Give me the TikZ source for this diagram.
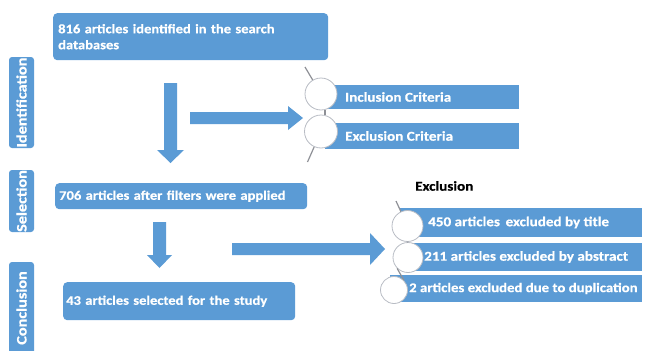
\documentclass[tikz,border=0pt]{standalone}
\usepackage{fontspec}
\setmainfont{Carlito}[FakeStretch=1.12, FakeBold=0.6]
\definecolor{blu}{HTML}{5B9BD5}
\definecolor{ring}{HTML}{B8BCC4}
\definecolor{stem}{HTML}{8E9096}
\begin{document}
\begin{tikzpicture}[x=1pt,y=-1pt,
 box/.style={fill=blu, rounded corners=4pt, text=white, font=\bfseries\fontsize{13}{16}\selectfont, inner ysep=0pt, align=left},
 lbl/.style={fill=blu, rounded corners=3pt, text=white, font=\bfseries\fontsize{14.5}{16}\selectfont, rotate=90, inner sep=0pt, minimum height=25pt},
 bar/.style={fill=blu, inner sep=0pt, anchor=west},
 txt/.style={text=white, font=\bfseries\fontsize{13.5}{15}\selectfont, inner sep=0pt, anchor=west},
 circ/.style={circle, fill=white, draw=ring, line width=0.8pt, inner sep=0pt},
 conn/.style={draw=stem, line width=1.2pt},
 blockarrow/.style={fill=blu}]
\useasboundingbox (0,0) rectangle (646,351);

% stage labels
\node[lbl, minimum width=91pt] (idl) at (21.5,102.5) {Identification};
\node[lbl, minimum width=62pt] (sell) at (21.5,201) {Selection};
\node[lbl, minimum width=92pt] (conl) at (21.5,308) {Conclusion};

% main boxes
\node[box, anchor=north west, minimum width=275pt, minimum height=47pt, text width=265pt, inner xsep=5pt] (top) at (53,13) {816 articles identified in the search\\databases};
\node[box, anchor=north west, minimum width=252pt, minimum height=26pt, text width=244pt, inner xsep=4pt] (sel) at (55,183) {706 articles after filters were applied};
\node[box, anchor=north west, minimum width=232pt, minimum height=38pt, text width=226pt, inner xsep=3pt] (con) at (63,282) {43 articles selected for the study};

% block arrows
\fill[blockarrow] (164,83) -- (177,83) -- (177,150) -- (184,150) -- (170.5,163) -- (157,150) -- (164,150) -- cycle;
\fill[blockarrow] (190,112) -- (288,112) -- (288,106) -- (303,118) -- (288,130) -- (288,124) -- (190,124) -- cycle;
\fill[blockarrow] (153,222) -- (166,222) -- (166,255) -- (172,255) -- (159.5,268) -- (147,255) -- (153,255) -- cycle;
\fill[blockarrow] (232,243) -- (370,243) -- (370,233) -- (385,249) -- (370,265) -- (370,255) -- (232,255) -- cycle;

% criteria bars
\node[bar, minimum width=194pt, minimum height=24pt] (inc) at (325,97) {};
\node[bar, minimum width=194pt, minimum height=26pt] (exc) at (325,136) {};

% exclusion bars
\node[bar, minimum width=242pt, minimum height=29pt] (x1) at (400,222.5) {};
\node[bar, minimum width=237pt, minimum height=28pt] (x2) at (405,257) {};
\node[bar, minimum width=252pt, minimum height=27pt] (x3) at (390,288.5) {};

% circles
\node[circ, minimum size=32pt] (c1) at (321,94) {};
\node[circ, minimum size=33pt] (c2) at (321,131.5) {};
\node[circ, minimum size=31pt] (e1) at (407.5,226) {};
\node[circ, minimum size=30pt] (e2) at (408,257.5) {};
\node[circ, minimum size=27pt] (e3) at (394,290) {};

\coordinate (t1) at (305,67);
\coordinate (b1) at (307.5,162);
\coordinate (t2) at (396,201);
\draw[conn] (c1) -- (t1);
\draw[conn] (c2) -- (b1);
\draw[conn] ([xshift=4pt]c1.south) -- ([xshift=4pt]c2.north);
\draw[conn] (e1) -- (t2);
\draw[conn] (e1.south) -- (e2.north);
\draw[conn] (e2.south west) -- (e3.north east);

% texts
\node[txt] (inct) at (345,97) {Inclusion Criteria};
\node[txt] (exct) at (345,136) {Exclusion Criteria};
\node[txt] (x1t) at (428,222.5) {450 articles\, excluded by title};
\node[txt] (x2t) at (424,257) {211 articles excluded by abstract};
\node[txt, font=\bfseries\fontsize{13.2}{15}\selectfont] (x3t) at (409,288.5) {2 articles excluded due to duplication};
\node[font=\bfseries\fontsize{13.5}{15}\selectfont, anchor=west, inner sep=0pt] (exh) at (415,186) {Exclusion};
\end{tikzpicture}
\end{document}
